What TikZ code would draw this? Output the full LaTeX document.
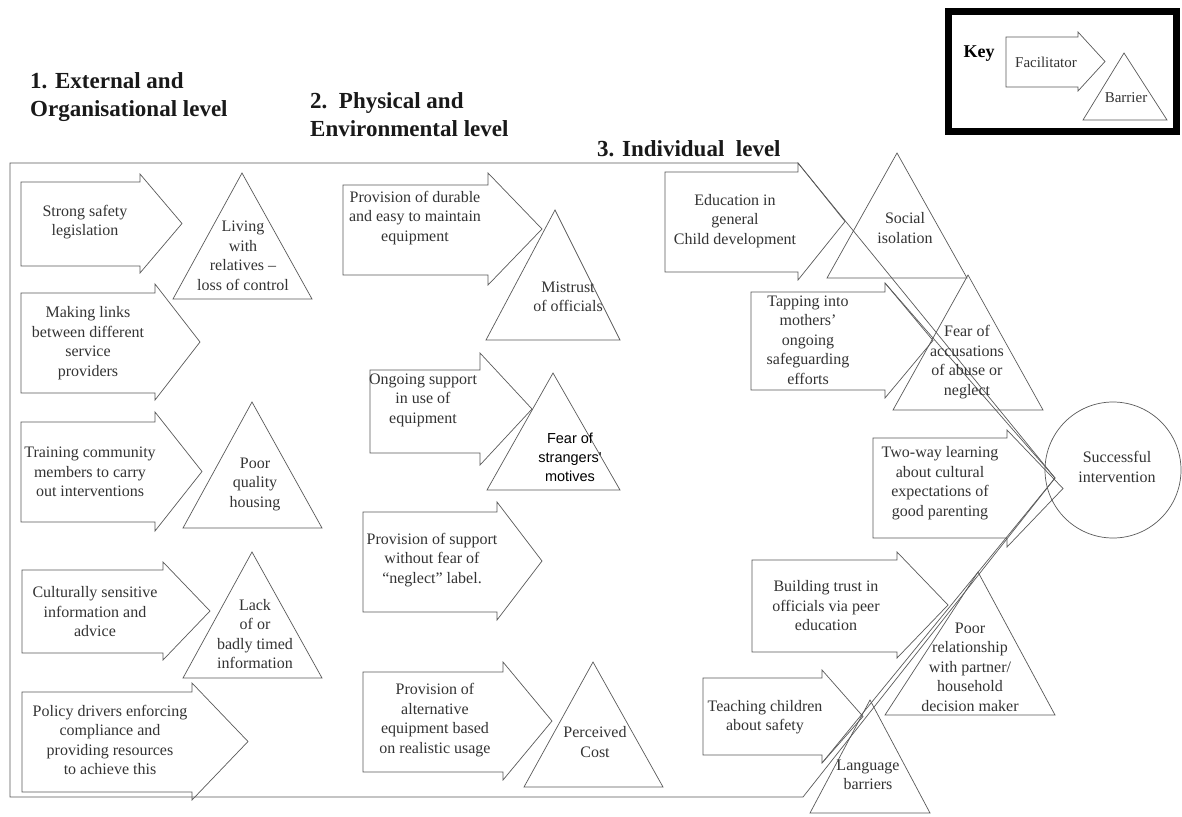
\documentclass[tikz,border=0pt]{standalone}
\usepackage{fontspec}
\setmainfont{Liberation Serif}
\newfontfamily\sansfont{Liberation Sans}
\usetikzlibrary{shapes.geometric}
\tikzstyle{facilitator} = [draw=black!65, line width=0.7pt]
\tikzstyle{barrier} = [draw=black!65, line width=0.7pt]
\tikzstyle{txt} = [align=center, text=black!80, inner sep=0pt, font=\fontsize{16}{19.5}\selectfont]
\tikzstyle{heading} = [align=left, anchor=west, inner sep=0pt, text=black!90, font=\bfseries\fontsize{23}{28}\selectfont]
\tikzstyle{goal} = [circle, draw=black!65, line width=0.7pt, minimum size=136pt, inner sep=0pt]
% facilitator: left, top, bottom, shaft end, head top, head bottom, tip x
\newcommand{\facil}[7]{\draw[facilitator] (#1,#2) -- (#4,#2) -- (#4,#5) -- (#7,{(#5+#6)/2}) -- (#4,#6) -- (#4,#3) -- (#1,#3) -- cycle;}
% barrier: apex x, apex y, base left, base right, base y
\newcommand{\barr}[5]{\draw[barrier] (#1,#2) -- (#4,#5) -- (#3,#5) -- cycle;}
\begin{document}
\begin{tikzpicture}[x=1pt, y=-1pt]
\useasboundingbox (0,0) rectangle (1182,816);

% key
\draw[black, line width=7pt] (948.5,11.5) rectangle (1176.5,131.5);
\node (key) [txt, text=black, font=\bfseries\fontsize{18}{20}\selectfont] at (979,54) {Key};
\facil{1006}{37}{87}{1078}{32}{91}{1105}
\node (keyfac) [txt, font=\fontsize{15}{18}\selectfont] at (1046,62) {Facilitator};
\barr{1124}{53}{1083}{1167}{120}
\node (keybar) [txt, font=\fontsize{15}{18}\selectfont] at (1126,98) {Barrier};

% level headings
\node (lvlone) [heading] at (30,97) {1. External and\\Organisational level};
\node (lvltwo) [heading] at (310,115) {2.\ \ Physical and\\Environmental level};
\node (lvlthree) [heading] at (597,149) {3. Individual\ \ level};

% big arrow towards the outcome
\coordinate (tip) at (1055,478);
\draw[facilitator] (10,163) -- (798,163) -- (tip) -- (803,797) -- (10,797) -- cycle;

% 1. external and organisational
\facil{21}{182}{266}{140}{174}{273}{182}
\node (safety) [txt] at (85,222) {Strong safety\\legislation};
\barr{242}{173}{173}{312}{299}
\node (living) [txt] at (243,256) {Living\\with\\relatives --\\loss of control};
\facil{21}{293}{393}{155}{284}{400}{200}
\node (links) [txt] at (88,343) {Making links\\between different\\service\\providers};
\facil{21}{422}{522}{155}{412}{531}{202}
\node (training) [txt] at (90,472) {Training community\\members to carry\\out interventions};
\barr{252}{402}{183}{322}{528}
\node (housing) [txt] at (255,484) {Poor\\quality\\housing};
\facil{22}{570}{653}{163}{562}{660}{210}
\node (cultural) [txt] at (95,612) {Culturally sensitive\\information and\\advice};
\barr{252}{552}{183}{322}{678}
\node (lack) [txt] at (255,634) {Lack\\of or\\badly timed\\information};
\facil{22}{692}{792}{192}{683}{800}{248}
\node (policy) [txt] at (110,740) {Policy drivers enforcing\\compliance and\\providing resources\\to achieve this};

% 2. physical and environmental
\facil{343}{185}{275}{488}{173}{285}{542}
\node (durable) [txt] at (415,218) {Provision of durable\\and easy to maintain\\equipment};
\barr{555}{210}{486}{620}{340}
\node (mistrust) [txt] at (568,297) {Mistrust\\of officials};
\facil{370}{370}{453}{480}{353}{465}{532}
\node (ongoing) [txt] at (423,400) {Ongoing support\\in use of\\equipment};
\barr{553}{373}{487}{620}{490}
\node (strangers) [txt, text=black, font=\sansfont\fontsize{14.5}{19}\selectfont] at (570,457) {Fear of\\strangers'\\motives};
\facil{363}{512}{612}{497}{502}{620}{542}
\node (support) [txt] at (432,560) {Provision of support\\without fear of\\``neglect'' label.};
\facil{363}{672}{772}{503}{662}{780}{552}
\node (alternative) [txt] at (435,720) {Provision of\\alternative\\equipment based\\on realistic usage};
\barr{593}{662}{524}{663}{787}
\node (cost) [txt] at (595,742) {Perceived\\Cost};

% 3. individual
\facil{665}{172}{272}{798}{163}{280}{845}
\node (education) [txt] at (735,221) {Education in\\general\\Child development};
\barr{897}{153}{827}{967}{278}
\node (social) [txt] at (905,228) {Social\\isolation};
\facil{751}{292}{390}{885}{283}{398}{933}
\draw[facilitator] (885,283) -- (tip);
\node (tapping) [txt] at (808,340) {Tapping into\\mothers'\\ongoing\\safeguarding\\efforts};
\barr{968}{275}{893}{1043}{410}
\node (accusations) [txt] at (967,362) {Fear of\\accusations\\of abuse or\\neglect};
\facil{873}{438}{538}{1007}{430}{547}{1063}
\node (twoway) [txt] at (940,483) {Two-way learning\\about cultural\\expectations of\\good parenting};
\facil{752}{560}{652}{897}{552}{658}{948}
\node (trust) [txt] at (826,606) {Building trust in\\officials via peer\\education};
\barr{978}{572}{885}{1055}{715}
\node (relationship) [txt] at (970,667) {Poor\\relationship\\with partner/\\household\\decision maker};
\facil{703}{678}{755}{822}{670}{763}{863}
\draw[facilitator] (822,763) -- (tip);
\node (teaching) [txt] at (765,717) {Teaching children\\about safety};
\barr{870}{700}{810}{930}{813}
\node (language) [txt] at (868,775) {Language\\barriers};

% outcome
\node (success) [goal] at (1113,470) {};
\node (successtxt) [txt] at (1117,467) {Successful\\intervention};

\end{tikzpicture}
\end{document}
